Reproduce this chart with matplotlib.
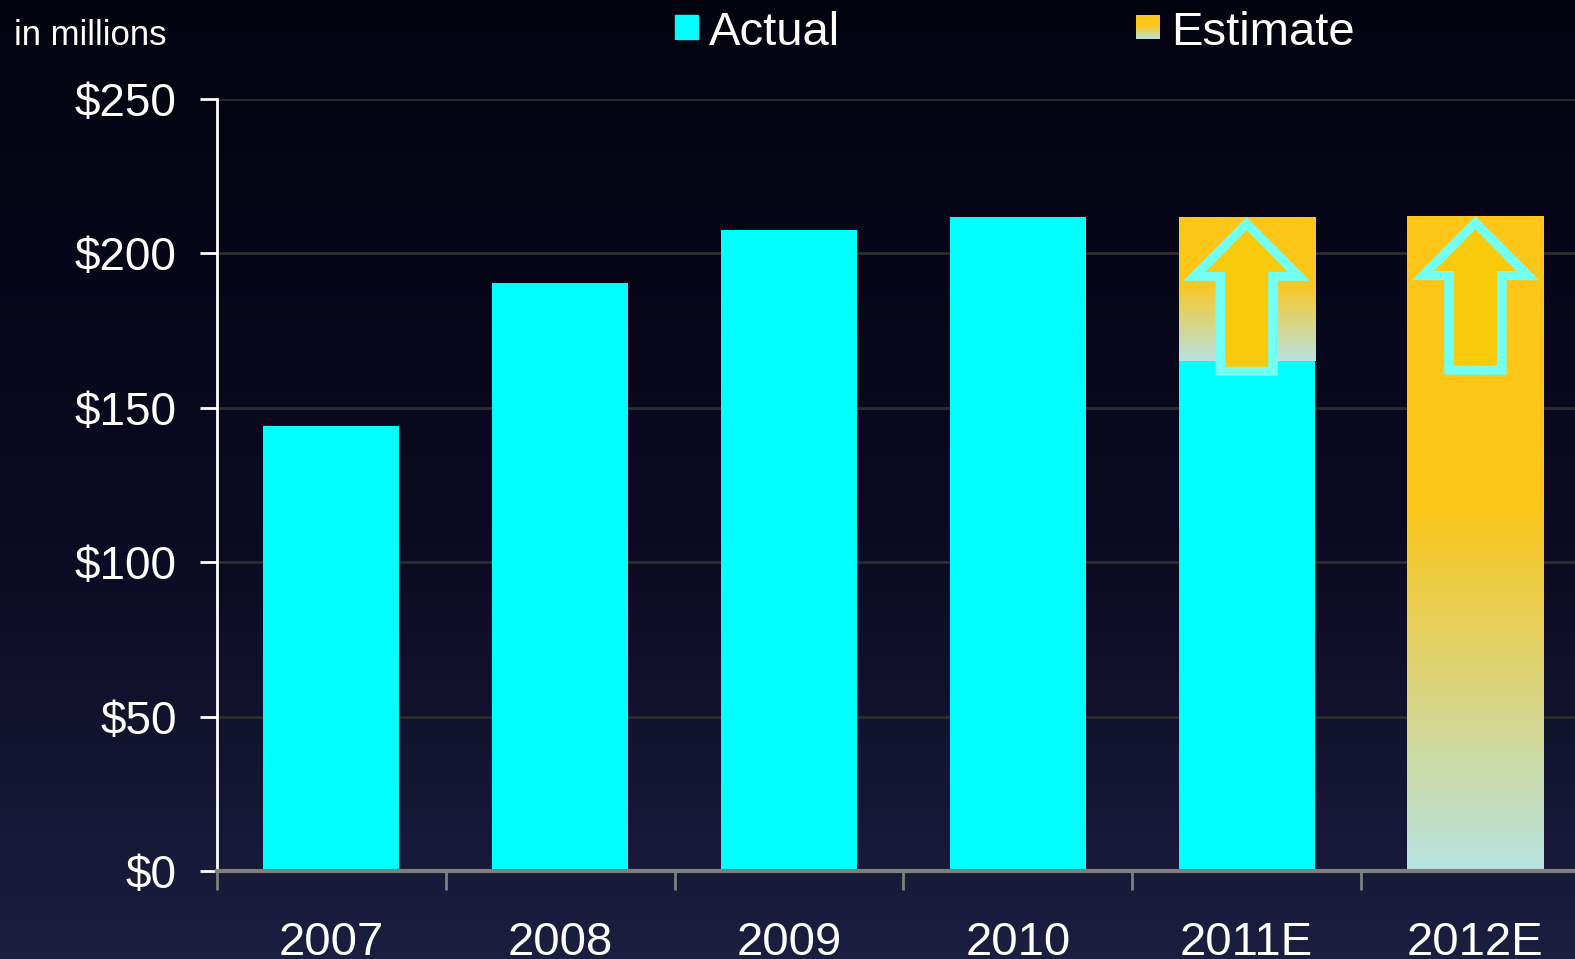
import matplotlib
matplotlib.use("Agg")
import matplotlib.pyplot as plt
import numpy as np
from matplotlib.colors import LinearSegmentedColormap
from matplotlib.patches import Polygon, Rectangle

plt.rcParams['font.family'] = ['Liberation Sans', 'DejaVu Sans']

years = ['2007', '2008', '2009', '2010', '2011E', '2012E']
actual = [144.1, 190.3, 207.6, 211.8, 165.2, 0]
estimate = [0, 0, 0, 0, 46.6, 212.1]
y_ticks = [0, 50, 100, 150, 200, 250]
y_labels = [r'\$0', r'\$50', r'\$100', r'\$150', r'\$200', r'\$250']

W, H = 1575, 959
fig = plt.figure(figsize=(W / 100, H / 100), dpi=100)

# background: dark navy, lighter toward the bottom
bg_cmap = LinearSegmentedColormap.from_list(
    'bg', [(0, '#1c1e40'), (0.45, '#0b0a22'), (1, '#030310')])
bg = fig.add_axes([0, 0, 1, 1])
bg.imshow(np.linspace(0, 1, 256).reshape(-1, 1)[::-1], cmap=bg_cmap,
          aspect='auto', extent=[0, 1, 0, 1], origin='upper')
bg.axis('off')

gold_cmap = LinearSegmentedColormap.from_list(
    'gold', [(0, '#b8e3e3'), (0.56, '#fdc619'), (1, '#fdc619')])
grad = np.linspace(0, 1, 256).reshape(-1, 1)

# plot area runs off the right edge of the picture
ax = fig.add_axes([217 / W, 1 - 871 / H, 1 - 217 / W, (871 - 99) / H])
ax.set_facecolor('none')

x = np.arange(len(years))
bw = 0.595
ax.bar(x, actual, width=bw, color='#00ffff', zorder=3)
est_bars = ax.bar(x, estimate, width=bw, bottom=actual, color='none', zorder=3)

for i, b in enumerate(est_bars):
    if estimate[i] <= 0:
        continue
    x0, y0, w, h = b.get_x(), b.get_y(), b.get_width(), b.get_height()
    im = ax.imshow(grad, extent=[x0, x0 + w, y0, y0 + h], origin='lower',
                   cmap=gold_cmap, aspect='auto', zorder=3)
    im.set_clip_path(b)

    # up arrow: cyan outline with gold fill, tip at the bar top
    cx, top = x0 + w / 2, y0 + h
    outer = [(cx, top), (cx - 0.466 * w, top - 20.7), (cx - 0.229 * w, top - 20.7),
             (cx - 0.229 * w, top - 51.4), (cx + 0.229 * w, top - 51.4),
             (cx + 0.229 * w, top - 20.7), (cx + 0.466 * w, top - 20.7)]
    inner = [(cx, top - 4.3), (cx - 0.303 * w, top - 17.8), (cx - 0.158 * w, top - 17.8),
             (cx - 0.158 * w, top - 48.5), (cx + 0.158 * w, top - 48.5),
             (cx + 0.158 * w, top - 17.8), (cx + 0.303 * w, top - 17.8)]
    ax.add_patch(Polygon(outer, closed=True, color='#72fff4', lw=0, zorder=4))
    ax.add_patch(Polygon(inner, closed=True, color='#f9ca0b', lw=0, zorder=5))

ax.yaxis.grid(True, color='#2e2e2e', lw=2)
ax.set_axisbelow(True)
for s in ['top', 'right']:
    ax.spines[s].set_visible(False)
ax.spines['left'].set_color('white')
ax.spines['left'].set_linewidth(2)
ax.spines['bottom'].set_color('#808080')
ax.spines['bottom'].set_linewidth(3)
ax.spines['left'].set_zorder(6)
ax.spines['bottom'].set_zorder(6)

ax.set_yticks(y_ticks, y_labels)
ax.tick_params(axis='y', colors='white', length=12, width=2, labelsize=33, pad=17)
ax.set_xticks(x, years)
ax.set_xticks(np.arange(-0.5, len(years), 1), minor=True)
ax.tick_params(axis='x', which='major', length=0, labelsize=34, labelcolor='white', pad=36)
ax.tick_params(axis='x', which='minor', length=14, width=2, color='#808080')

ax.set_xlim(-0.5, (W - 217) / 228.8 - 0.5)
ax.set_ylim(0, 250)

fig.text(14 / W, 1 - 45 / H, 'in millions', fontsize=25, color='white', va='baseline')

# legend drawn by hand
fig.patches.append(Rectangle((675 / W, 1 - 39 / H), 23 / W, 24 / H,
                             transform=fig.transFigure, color='#00ffff'))
fig.text(709 / W, 1 - 45 / H, 'Actual', fontsize=34, color='white', va='baseline')
lax = fig.add_axes([1136 / W, 1 - 39 / H, 24 / W, 24 / H])
lax.imshow(grad, cmap=gold_cmap, aspect='auto', origin='lower')
lax.axis('off')
fig.text(1171 / W, 1 - 45 / H, 'Estimate', fontsize=34, color='white', va='baseline')

fig.savefig('out.png', dpi=100)
